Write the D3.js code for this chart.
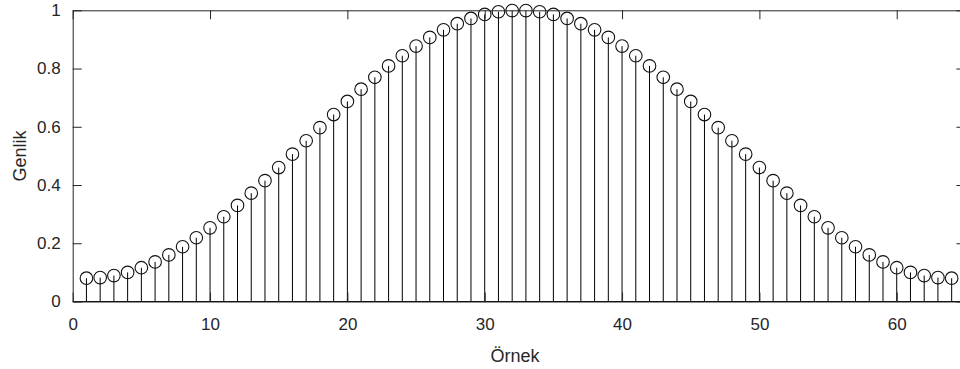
<!DOCTYPE html>
<html>
<head>
<meta charset="utf-8">
<script src="https://cdn.jsdelivr.net/npm/d3@7"></script>
<style>
	body { margin: 0; background: #fff; }
	svg { display: block; }
	text { font-family: "Liberation Sans", Arial, sans-serif; fill: #262626; }
</style>
</head>
<body>
<svg id="chart" width="960" height="369"></svg>
<script>
// sample numbers 1..64 and their amplitudes
const samples = d3.range(1, 65)
const amplitude = [
	0.080, 0.082, 0.089, 0.100, 0.116, 0.136, 0.160, 0.188, 0.219, 0.253, 0.291, 0.330, 0.372, 0.415, 0.460, 0.506,
	0.552, 0.597, 0.642, 0.687, 0.729, 0.770, 0.809, 0.844, 0.877, 0.907, 0.933, 0.954, 0.972, 0.986, 0.995, 0.999,
	0.999, 0.995, 0.986, 0.972, 0.954, 0.933, 0.907, 0.877, 0.844, 0.809, 0.770, 0.729, 0.687, 0.642, 0.597, 0.552,
	0.506, 0.460, 0.415, 0.372, 0.330, 0.291, 0.253, 0.219, 0.188, 0.160, 0.136, 0.116, 0.100, 0.089, 0.082, 0.080
]
const xTicks = [0, 10, 20, 30, 40, 50, 60]
const yTicks = [0, 0.2, 0.4, 0.6, 0.8, 1]
const xLabel = "Örnek"
const yLabel = "Genlik"

const plotLeft = 72.7, plotRight = 965.4, plotTop = 10.3, plotBottom = 301.5
const tickLen = 9
const axisColor = "#262626"
const fontSize = 17

const svg = d3.select("#chart")
const x = d3.scaleLinear().domain([0, 65]).range([plotLeft, plotRight])
const y = d3.scaleLinear().domain([0, 1]).range([plotBottom, plotTop])

// stems
svg.append("g")
	.selectAll("line")
	.data(samples)
	.enter()
	.append("line")
	.attr("x1", (d) => x(d))
	.attr("x2", (d) => x(d))
	.attr("y1", y(0))
	.attr("y2", (d, i) => y(amplitude[i]))
	.attr("stroke", "#000")
	.attr("stroke-width", 1)

// baseline
svg.append("line")
	.attr("x1", x(0)).attr("x2", x(65))
	.attr("y1", y(0)).attr("y2", y(0))
	.attr("stroke", "#000")

// markers
svg.append("g")
	.selectAll("circle")
	.data(samples)
	.enter()
	.append("circle")
	.attr("cx", (d) => x(d))
	.attr("cy", (d, i) => y(amplitude[i]))
	.attr("r", 6.3)
	.attr("fill", "none")
	.attr("stroke", "#111")
	.attr("stroke-width", 1.1)

// axes on all four sides, ticks pointing in
const axisBottom = d3.axisBottom(x).tickValues(xTicks).tickSizeInner(-tickLen).tickSizeOuter(0).tickPadding(16)
const axisTop = d3.axisTop(x).tickValues(xTicks).tickSizeInner(-tickLen).tickSizeOuter(0).tickFormat("")
const axisLeft = d3.axisLeft(y).tickValues(yTicks).tickSizeInner(-tickLen).tickSizeOuter(0).tickPadding(12).tickFormat(d3.format("~g"))
const axisRight = d3.axisRight(y).tickValues(yTicks).tickSizeInner(-tickLen).tickSizeOuter(0).tickFormat("")

const styleAxis = (g) => {
	g.selectAll("path").attr("stroke", axisColor)
	g.selectAll("line").attr("stroke", axisColor)
	g.selectAll("text").attr("font-size", fontSize).attr("fill", axisColor)
		.style("font-family", '"Liberation Sans", Arial, sans-serif')
}

svg.append("g").attr("transform", `translate(0,${plotBottom})`).call(axisBottom).call(styleAxis)
svg.append("g").attr("transform", `translate(0,${plotTop})`).call(axisTop).call(styleAxis)
svg.append("g").attr("transform", `translate(${plotLeft},0)`).call(axisLeft).call(styleAxis)
svg.append("g").attr("transform", `translate(${plotRight},0)`).call(axisRight).call(styleAxis)

// axis titles
svg.append("text")
	.attr("x", 515)
	.attr("y", 362)
	.attr("text-anchor", "middle")
	.attr("font-size", 18)
	.text(xLabel)

svg.append("text")
	.attr("transform", `translate(26,${(plotTop + plotBottom) / 2}) rotate(-90)`)
	.attr("text-anchor", "middle")
	.attr("font-size", 18)
	.text(yLabel)
</script>
</body>
</html>
